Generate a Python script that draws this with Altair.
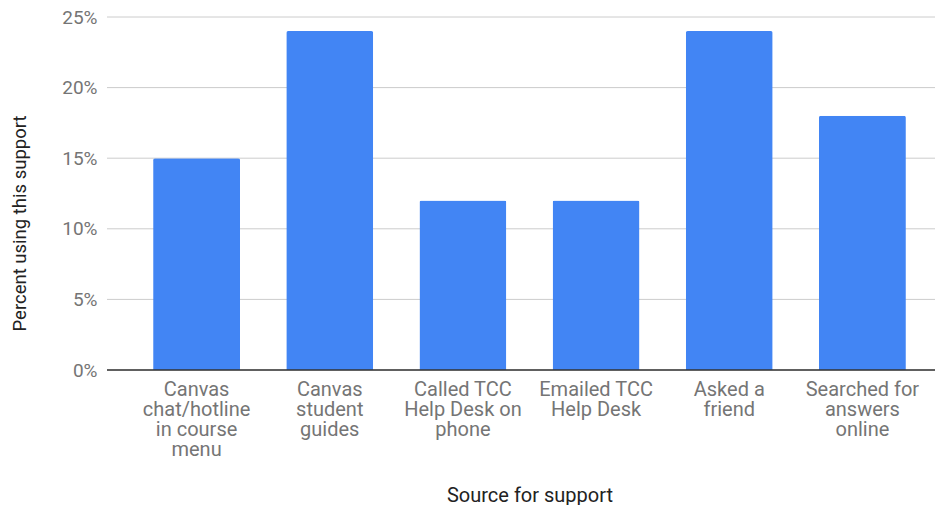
import altair as alt
import pandas as pd
import json

categories = [
    "Canvas chat/hotline in course menu",
    "Canvas student guides",
    "Called TCC Help Desk on phone",
    "Emailed TCC Help Desk",
    "Asked a friend",
    "Searched for answers online",
]
label_lines = [
    ["Canvas", "chat/hotline", "in course", "menu"],
    ["Canvas", "student", "guides"],
    ["Called TCC", "Help Desk on", "phone"],
    ["Emailed TCC", "Help Desk"],
    ["Asked a", "friend"],
    ["Searched for", "answers", "online"],
]
percent = [15, 24, 12, 12, 24, 18]
y_ticks = [0, 5, 10, 15, 20, 25]

df = pd.DataFrame({"source": categories, "pct": percent})
grid_df = pd.DataFrame({"tick": y_ticks})
label_map = json.dumps(dict(zip(categories, label_lines)))

FONT = "Roboto"

grid = alt.Chart(grid_df).mark_rule(color="#cccccc", strokeWidth=1).encode(
    y=alt.Y("tick:Q")
)

bars = alt.Chart(df).mark_bar(
    color="#4285F4", cornerRadiusTopLeft=2, cornerRadiusTopRight=2
).encode(
    x=alt.X(
        "source:N",
        sort=categories,
        scale=alt.Scale(range=[23, 822], paddingInner=0.347, paddingOuter=0.1735),
        axis=alt.Axis(
            title="Source for support",
            labelExpr=f"({label_map})[datum.value]",
            labelAngle=0,
            labelFontSize=20,
            labelLineHeight=20,
            labelColor="#757575",
            labelPadding=9,
            labelFont=FONT,
            ticks=False,
            domain=False,
            titleFont=FONT,
            titleFontSize=20,
            titleFontWeight="normal",
            titleColor="#222222",
            titleY=131,
            titleBaseline="alphabetic",
        ),
    ),
    y=alt.Y(
        "pct:Q",
        scale=alt.Scale(domain=[0, 25], nice=False),
        axis=alt.Axis(
            title="Percent using this support",
            values=y_ticks,
            labelExpr="datum.value + '%'",
            labelFontSize=19,
            labelColor="#757575",
            labelFont=FONT,
            labelPadding=10,
            ticks=False,
            domain=False,
            grid=False,
            titleFont=FONT,
            titleFontSize=18.5,
            titleFontWeight="normal",
            titleColor="#222222",
            titleX=-78,
            titleY=206,
        ),
    ),
)

base = alt.Chart(pd.DataFrame({"zero": [0]})).mark_rule(
    color="#333333", strokeWidth=1.5
).encode(y=alt.Y("zero:Q"))

chart = alt.layer(grid, bars, base).properties(
    width=828,
    height=353,
    autosize=alt.AutoSizeParams(type="none"),
    padding={"left": 99, "top": 9, "right": 0, "bottom": 135},
).configure_view(stroke=None)

chart.save("out.html", embed_options={"renderer": "svg", "actions": False})
